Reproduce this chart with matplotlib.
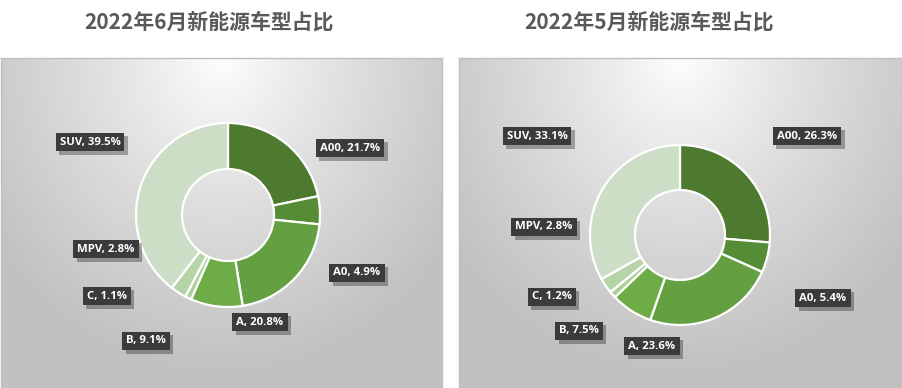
import numpy as np
import matplotlib
matplotlib.use("Agg")
import matplotlib.pyplot as plt
import matplotlib.patheffects as pe

plt.rcParams['font.family'] = ['Noto Sans CJK SC', 'DejaVu Sans']

categories = ["A00", "A0", "A", "B", "C", "MPV", "SUV"]
june_values = [21.7, 4.9, 20.8, 9.1, 1.1, 2.8, 39.5]
may_values = [26.3, 5.4, 23.6, 7.5, 1.2, 2.8, 33.1]
titles = ["2022年6月新能源车型占比", "2022年5月新能源车型占比"]
colors = ["#4E7A2F", "#568C36", "#64A042", "#6EAC48", "#A9CF94", "#B7D4A8", "#CCDEC6"]

W, H = 902, 388
fig = plt.figure(figsize=(W / 100, H / 100), dpi=100)
fig.patch.set_facecolor("white")

def fx(x):
    return x / W

def fy(y):
    return 1 - y / H

# background panels with radial gradient
panels = [(1, 58, 442, 388), (459, 58, 902, 388)]
for (x0, y0, x1, y1) in panels:
    ax_bg = fig.add_axes([fx(x0), fy(y1), fx(x1 - x0), (y1 - y0) / H])
    nx, ny = 300, 220
    xs = np.linspace(-1, 1, nx)
    ys = np.linspace(0, 1.5, ny)
    X, Y = np.meshgrid(xs, ys)
    R = np.sqrt((X * 0.95) ** 2 + (Y * 0.85) ** 2)
    R = np.clip(R / 1.2, 0, 1)
    v = 1.0 - 0.24 * R ** 0.85
    img = np.dstack([v, v, v])
    ax_bg.imshow(img, aspect="auto", extent=[0, 1, 0, 1], origin="upper")
    ax_bg.set_xlim(0, 1)
    ax_bg.set_ylim(0, 1)
    ax_bg.set_xticks([])
    ax_bg.set_yticks([])
    for s in ax_bg.spines.values():
        s.set_color("#BFBFBF")
        s.set_linewidth(1.0)

charts = [
    dict(values=june_values, title=titles[0], cx=228, cy=215, r=92, tx=209,
         labels={"A00": (350, 148), "A0": (357, 273), "A": (260, 322), "B": (146, 341),
                 "C": (107, 296), "MPV": (106, 249), "SUV": (90, 142)}),
    dict(values=may_values, title=titles[1], cx=680, cy=235, r=90, tx=649,
         labels={"A00": (807, 136), "A0": (823, 298), "A": (652, 346), "B": (579, 331),
                 "C": (552, 297), "MPV": (544, 227), "SUV": (537, 136)}),
]

for ch in charts:
    cx, cy, r = ch["cx"], ch["cy"], ch["r"]
    ax = fig.add_axes([fx(cx - r - 2), fy(cy + r + 2), fx(2 * r + 4), (2 * r + 4) / H])
    ax.pie(ch["values"], colors=colors, startangle=90, counterclock=False,
           radius=1.0, wedgeprops=dict(width=0.5, edgecolor="white", linewidth=1.6))
    lim = 1.0 * (r + 2) / r
    ax.set_xlim(-lim, lim)
    ax.set_ylim(-lim, lim)
    ax.set_aspect("equal")
    ax.axis("off")

    fig.text(fx(ch["tx"]), fy(22), ch["title"], ha="center", va="center",
             fontsize=15, fontweight="bold", color="#595959")

    for cat, val in zip(categories, ch["values"]):
        lx, ly = ch["labels"][cat]
        txt = f"{cat}, {val}%"
        t = fig.text(fx(lx), fy(ly), txt, ha="center", va="center",
                     fontsize=8.2, fontweight="bold", color="white",
                     family=["Open Sans", "DejaVu Sans"],
                     bbox=dict(boxstyle="square,pad=0.35", facecolor="#3B3B3B",
                               edgecolor="none"))
        t.get_bbox_patch().set_path_effects([
            pe.SimplePatchShadow(offset=(2.5, -2.5), shadow_rgbFace="black", alpha=0.3),
            pe.Normal()])

fig.savefig("out.png", dpi=100)
